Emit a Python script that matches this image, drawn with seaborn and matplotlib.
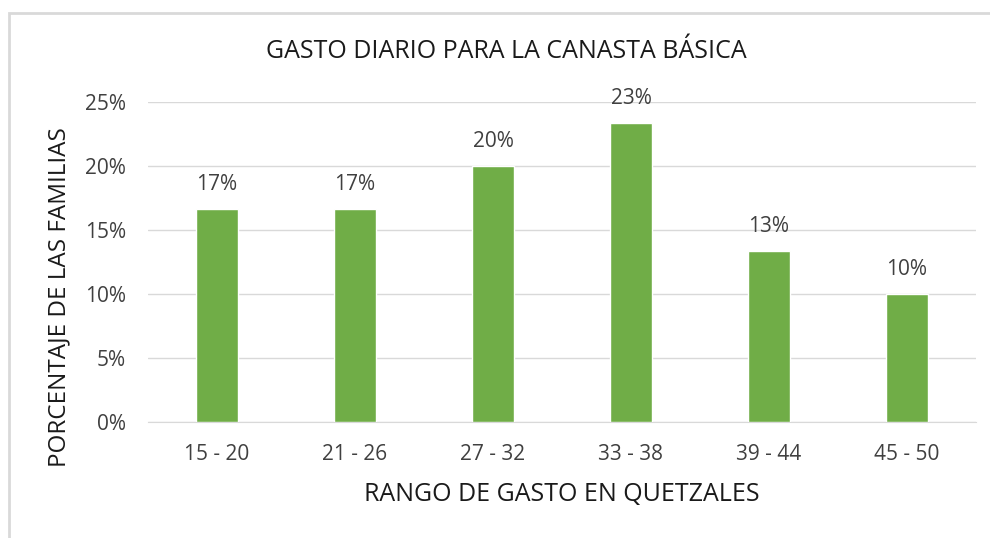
import seaborn as sns
import matplotlib.pyplot as plt
import matplotlib.patches as mpatches
import pandas as pd

# datos
rangos = ["15 - 20", "21 - 26", "27 - 32", "33 - 38", "39 - 44", "45 - 50"]
porcentajes = [0.1667, 0.1667, 0.20, 0.2333, 0.1333, 0.10]
ticks_y = [0, 0.05, 0.10, 0.15, 0.20, 0.25]

df = pd.DataFrame({"rango": rangos, "porcentaje": porcentajes})

sns.set_style("white")
plt.rcParams['font.family'] = ['Open Sans', 'DejaVu Sans']

fig = plt.figure(figsize=(9.9, 5.38), dpi=100)
ax = fig.add_axes([148 / 990, 1 - 422 / 538, (976 - 148) / 990, 320 / 538])

sns.barplot(data=df, x="rango", y="porcentaje", color="#70AD47", width=0.31,
            saturation=1, ax=ax, zorder=3)

ax.set_ylim(0, 0.25)
ax.set_yticks(ticks_y)
ax.set_yticklabels([f"{int(round(t * 100))}%" for t in ticks_y])
ax.grid(axis="y", color="#D9D9D9", linewidth=1, zorder=0)
ax.set_xlim(-0.5, len(rangos) - 0.5)
for s in ["top", "right", "left"]:
    ax.spines[s].set_visible(False)
ax.spines["bottom"].set_color("#D9D9D9")
ax.tick_params(axis="both", length=0, labelsize=15, colors="#404040")
ax.tick_params(axis="x", pad=16)
ax.tick_params(axis="y", pad=16)

for i, v in enumerate(porcentajes):
    ax.annotate(f"{round(v * 100):.0f}%", (i, v), xytext=(0, 10),
                textcoords="offset points", ha="center", va="bottom",
                fontsize=15, color="#404040")

ax.set_xlabel("RANGO DE GASTO EN QUETZALES", fontsize=18, color="#1a1a1a", labelpad=12)
ax.set_ylabel("PORCENTAJE DE LAS FAMILIAS", fontsize=17.5, color="#1a1a1a")
ax.yaxis.set_label_coords(-0.092, 0.39)
fig.text(506 / 990, 1 - 52 / 538, "GASTO DIARIO PARA LA CANASTA BÁSICA",
         ha="center", va="center", fontsize=18, color="#1a1a1a")

# borde del area del grafico
fig.patches.append(mpatches.Rectangle((9 / 990, -0.1), 1.2, 1.1 - 13 / 538,
                                      transform=fig.transFigure, fill=False,
                                      edgecolor="#D9D9D9", linewidth=2))

fig.savefig("out.png", dpi=100)
